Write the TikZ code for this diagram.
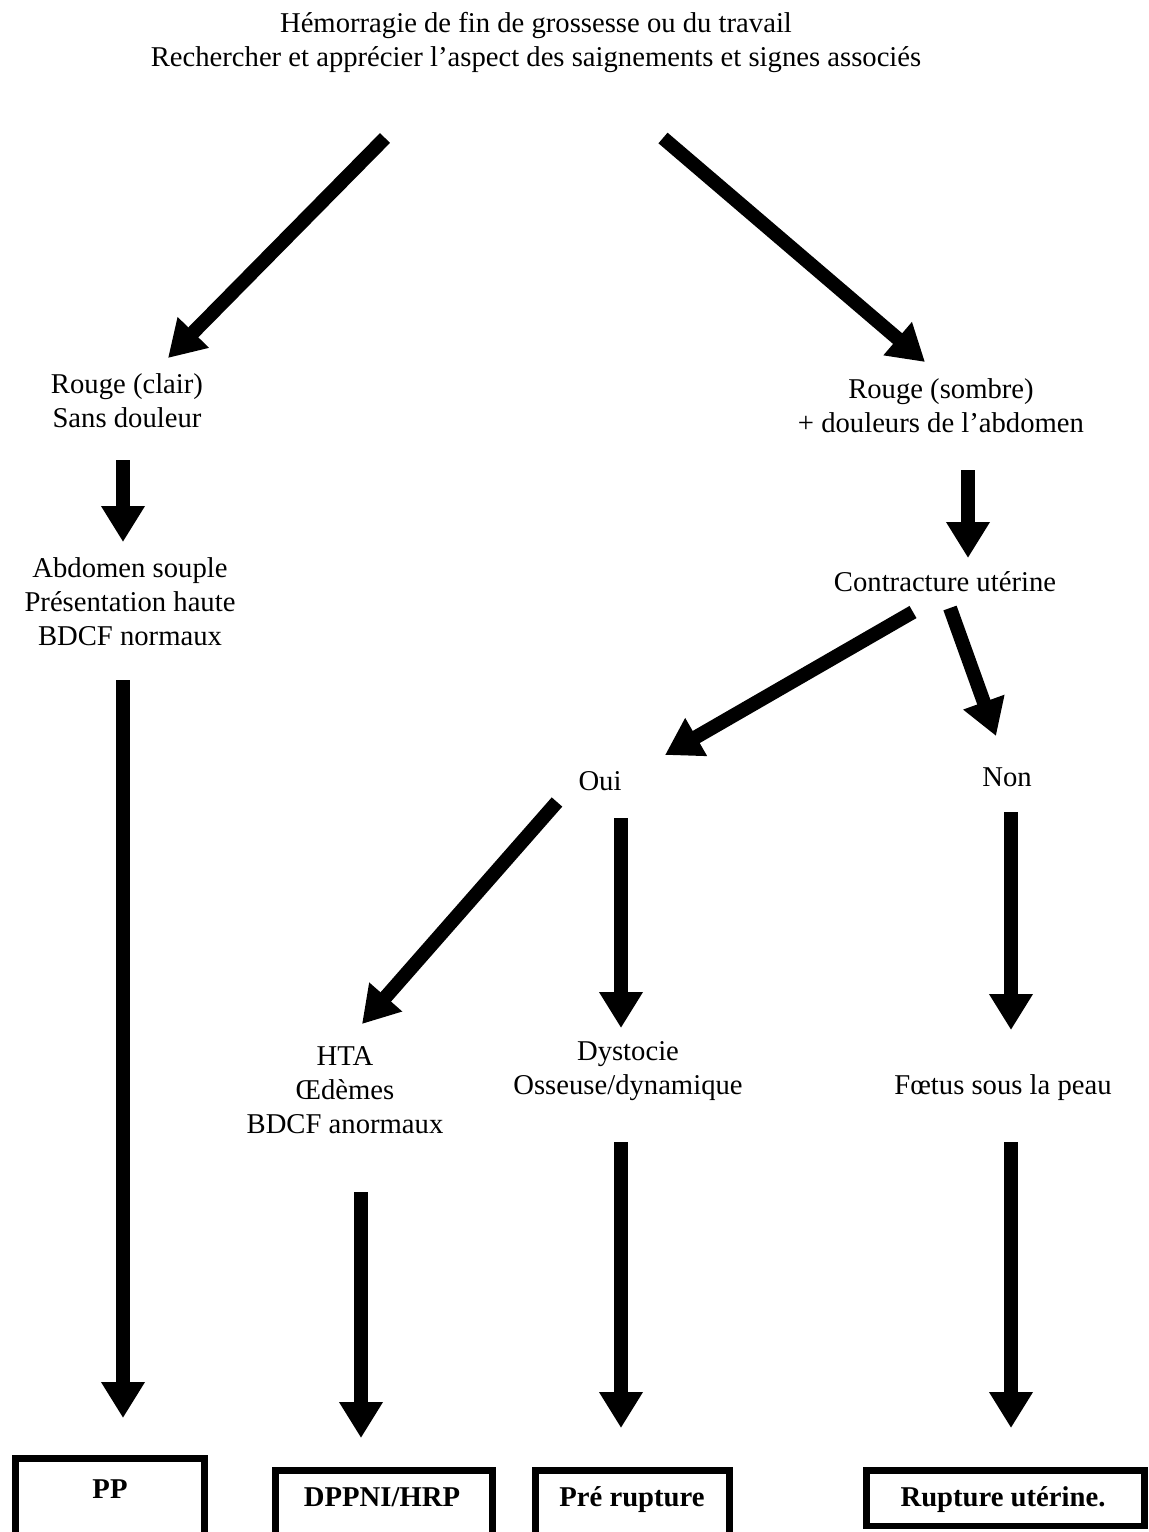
\documentclass[tikz,border=0pt]{standalone}
\usepackage{fontspec}
\setmainfont{Liberation Serif}
\usetikzlibrary{arrows.meta}
\begin{document}
\begin{tikzpicture}[x=0.75pt,y=-0.75pt,
  lbl/.style={align=center, font=\fontsize{21.5}{25.5}\selectfont, inner sep=0pt},
  res/.style={font=\fontsize{21.5}{25.5}\selectfont\bfseries, inner sep=0pt, anchor=base},
  big/.style={line width=10.5pt, -{Triangle[length=27pt,width=31pt]}},
  boxline/.style={line width=5pt}]
\useasboundingbox (0,0) rectangle (1149,1532);
\clip (0,0) rectangle (1149,1532);

% ---- text nodes ----
\node[lbl] (title) at (536,42) {Hémorragie de fin de grossesse ou du travail\\Rechercher et apprécier l’aspect des saignements et signes associés};
\node[lbl] (rc)  at (127,401) {Rouge (clair)\\Sans douleur};
\node[lbl] (rs)  at (941,406) {Rouge (sombre)\\+ douleurs de l’abdomen};
\node[lbl] (ab)  at (130,602) {Abdomen souple\\Présentation haute\\BDCF normaux};
\node[lbl] (ct)  at (945,582) {Contracture utérine};
\node[lbl] (oui) at (600,781) {Oui};
\node[lbl] (non) at (1007,777) {Non};
\node[lbl] (hta) at (345,1090) {HTA\\Œdèmes\\BDCF anormaux};
\node[lbl] (dys) at (628,1071) {Dystocie\\Osseuse/dynamique};
\node[lbl] (foe) at (1003,1088) {Fœtus sous la peau};

% ---- result boxes ----
\node[res] (pp)  at (110,1498) {PP};
\node[res] (hrp) at (382,1506) {DPPNI/HRP};
\node[res] (pre) at (632,1506) {Pré rupture};
\node[res] (ru)  at (1003,1506) {Rupture utérine.};
\draw[boxline] (15.5,1458.5) rectangle (204.5,1538);
\draw[boxline] (275.5,1470.5) rectangle (492.5,1538);
\draw[boxline] (535.5,1470.5) rectangle (729.5,1538);
\draw[boxline] (866.5,1470.5) rectangle (1144.5,1526);

% ---- arrow end points ----
\coordinate (t1) at (385,138);  \coordinate (h1) at (168,358);
\coordinate (t2) at (663,138);  \coordinate (h2) at (925,362);
\coordinate (t3) at (123,460);  \coordinate (h3) at (123,542);
\coordinate (t4) at (968,470);  \coordinate (h4) at (968,558);
\coordinate (t5) at (913,612);  \coordinate (h5) at (665,755);
\coordinate (t6) at (950,608);  \coordinate (h6) at (996,736);
\coordinate (t7) at (123,680);  \coordinate (h7) at (123,1418);
\coordinate (t8) at (557,802);  \coordinate (h8) at (362,1024);
\coordinate (t9) at (621,818);  \coordinate (h9) at (621,1028);
\coordinate (t10) at (1011,812); \coordinate (h10) at (1011,1030);
\coordinate (t11) at (361,1192); \coordinate (h11) at (361,1438);
\coordinate (t12) at (621,1142); \coordinate (h12) at (621,1428);
\coordinate (t13) at (1011,1142); \coordinate (h13) at (1011,1428);

% ---- connectors ----
\foreach \i in {1,...,13}{\draw[big] (t\i) -- (h\i);}
\end{tikzpicture}
\end{document}
